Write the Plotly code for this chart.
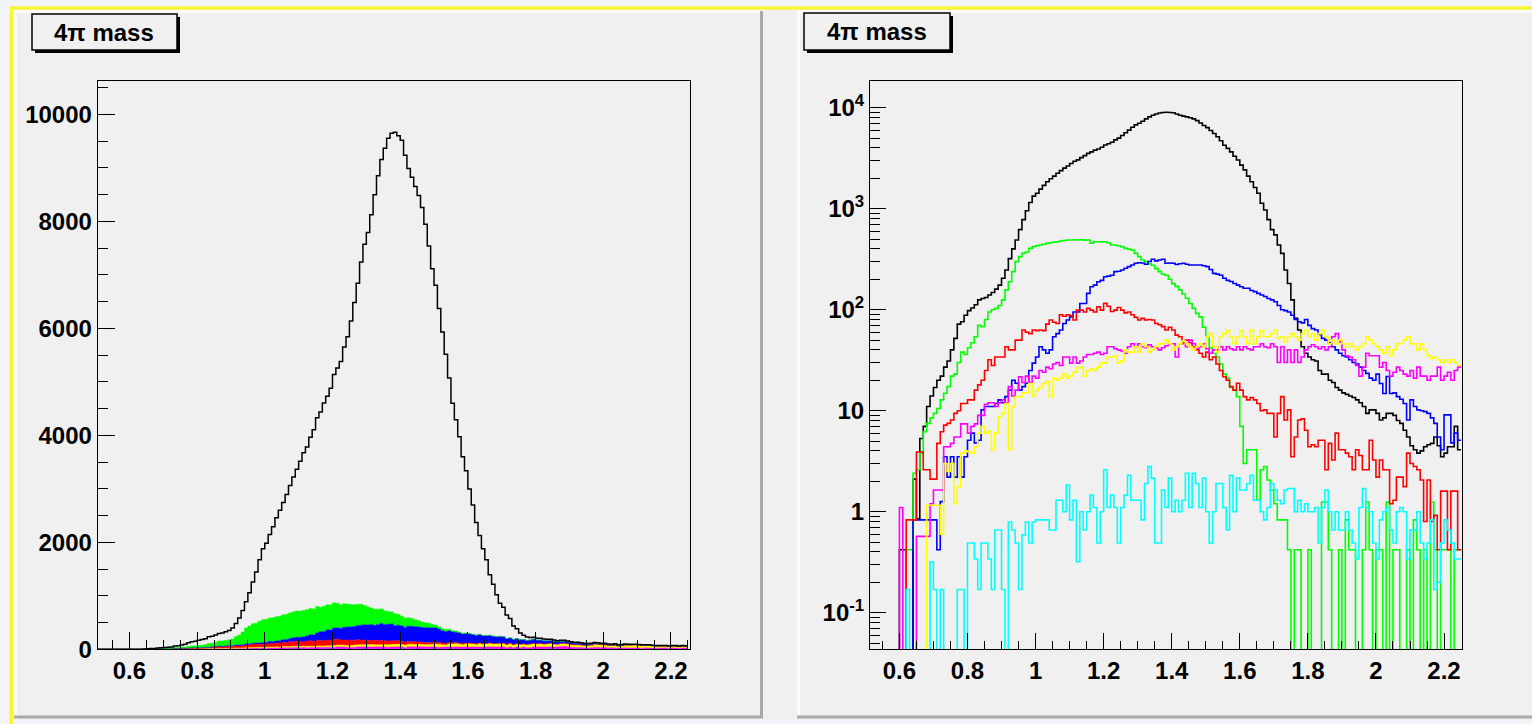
import numpy as np
import plotly.graph_objects as go

# ---------------- data: 4pi mass histograms, 175 bins of 0.01 from 0.50 to 2.25 ----------------
bin_lo = 0.50
bin_w = 0.01
n_bins = 175

black = (
    [0, 0, 0, 0, 0, 0, 0, 0, 0, 0] +
    [0.42, 0.42, 0, 0, 2.1, 0.85, 5.3, 7.0, 11, 14] +
    [17, 20, 22, 27, 31, 40, 52, 72, 76, 88] +
    [98, 104, 112, 125, 129, 132, 140, 148, 160, 175] +
    [205, 247, 320, 400, 490, 620, 780, 955, 1150, 1330] +
    [1420, 1560, 1700, 1850, 1980, 2100, 2240, 2380, 2520, 2650] +
    [2800, 2950, 3040, 3200, 3350, 3530, 3650, 3800, 3900, 4050] +
    [4270, 4400, 4550, 4800, 5000, 5300, 5650, 6000, 6400, 6750] +
    [7000, 7350, 7750, 8100, 8400, 8650, 8850, 8950, 9000, 8950] +
    [8900, 8650, 8400, 8250, 8100, 7950, 7750, 7450, 7050, 6650] +
    [6350, 5950, 5550, 5150, 4700, 4250, 3950, 3650, 3300, 3030] +
    [2700, 2420, 2100, 1850, 1620, 1420, 1130, 970, 780, 620] +
    [550, 437, 361, 247, 182, 125, 82, 63, 43, 37] +
    [34, 32, 31, 25, 23, 23, 20, 19, 17, 16] +
    [15, 14.5, 14, 13.5, 12.8, 12, 11, 9.4, 10.2, 10.2] +
    [9.4, 8.1, 8.5, 9.4, 9.4, 9.0, 8.0, 7.5, 6.4, 5.5] +
    [4.5, 4.1, 3.8, 4.0, 4.4, 4.6, 4.75, 5.5, 4.5, 3.5] +
    [3.8, 4.4, 4.4, 7, 4.1]
)

green = (
    [0] * 10 +
    [0, 0, 0.42, 0.42, 2.4, 2.6, 3.8, 6.2, 7.5, 8.5] +
    [9.4, 10.5, 12.8, 14.9, 17.3, 22, 23, 30, 38, 36] +
    [42, 47, 54, 70, 68, 80, 95, 100, 103, 110] +
    [125, 157, 189, 238, 299, 335, 361, 372, 405, 421] +
    [430, 437, 445, 454, 460, 465, 471, 478, 485, 490] +
    [490, 492, 490, 492, 488, 490, 454, 471, 471, 471] +
    [471, 460, 437, 437, 430, 420, 405, 398, 390, 361] +
    [335, 310, 299, 285, 275, 255, 238, 225, 219, 200] +
    [181, 170, 157, 143, 130, 115, 103, 92, 85, 67] +
    [54, 42, 37, 34, 29, 23, 21, 17, 16, 13.8] +
    [7, 3.0, 4.1, 4.1, 4.1, 1.3, 2.6, 2.8, 2.06, 1.64] +
    [1.2, 0.83, 0.83, 0.83, 0.42, 0, 0.42, 0.42, 0, 0] +
    [0.42, 0, 0, 0, 1.25, 1.25, 0.42, 0, 0, 0.42] +
    [0, 0.83, 0.42, 0.42, 0, 0, 0.42, 1.25, 0.42, 0] +
    [0.42, 0.42, 0, 1.25, 0, 0.42, 0.42, 0, 0, 0.42] +
    [0, 0.83, 0.42, 0, 0.42, 0, 1.25, 0.42, 0, 0.42] +
    [0.42, 0.42, 0, 0.42, 0.42]
)

blue = (
    [0] * 10 +
    [0, 0, 0, 0, 0.83, 0.83, 0.83, 0.83, 0.83, 0.83] +
    [0.83, 0.42, 1.26, 3.5, 2.2, 3.5, 2.2, 3.5, 2.2, 3.5] +
    [5.1, 6.0, 4.8, 5.1, 10.2, 11, 11, 11, 11.8, 12.8] +
    [12, 13.8, 16, 20, 18.7, 16, 17.3, 18.7, 25, 29.6] +
    [34, 43, 40, 37, 40, 54, 58, 63, 73, 79] +
    [85, 95, 95, 115, 115, 145, 169, 175, 189, 195] +
    [212, 215, 219, 238, 240, 247, 257, 267, 277, 288] +
    [292, 290, 282, 300, 316, 304, 310, 316, 288, 290] +
    [288, 280, 285, 288, 282, 277, 277, 277, 277, 272] +
    [267, 250, 229, 225, 219, 205, 195, 190, 182, 175] +
    [169, 163, 163, 155, 151, 145, 140, 135, 129, 125] +
    [120, 110, 100, 98, 95, 88, 80, 76, 74, 80] +
    [70, 65, 63, 57, 52, 50, 47, 43, 40, 37] +
    [35, 34, 32, 30, 29, 27, 25, 23.4, 21, 20] +
    [23, 18.6, 14.8, 21.8, 14.8, 15, 13.8, 13, 11.8, 8.1] +
    [12.8, 11, 10.2, 10, 9.8, 9.4, 8.5, 7.5, 5.5, 4.1] +
    [9.1, 9.1, 4.8, 6, 5.1]
)

red = (
    [0] * 10 +
    [0, 0, 0.83, 0.83, 0.83, 3.9, 3.9, 2.6, 2.6, 2.1] +
    [2.1, 4.75, 6.2, 7.2, 7.5, 8.1, 9.4, 10, 11.8, 11.8] +
    [12.8, 12.8, 16, 18, 20, 25, 32, 28, 34, 34] +
    [34, 43, 40, 40, 50, 50, 63, 60, 58, 63] +
    [62, 63, 62, 72, 79, 75, 73, 89, 86, 89] +
    [87, 79, 99, 99, 95, 103, 99, 95, 107, 99] +
    [116, 108, 96, 99, 105, 99, 93, 95, 89, 84] +
    [79, 82, 79, 80, 79, 73, 71, 68, 63, 67] +
    [63, 56, 54, 47, 50, 47, 43, 40, 37, 34] +
    [38, 32, 34, 29, 25, 21.7, 20, 17.3, 16, 18.7] +
    [16, 13.8, 12.8, 13.5, 12.8, 11.8, 10, 10.2, 9.4, 9.4] +
    [5.5, 9.4, 13.8, 8.1, 10.2, 3.5, 5.5, 8.1, 8.3, 6.4] +
    [4.4, 4.6, 4.4, 5.1, 5.1, 2.6, 4.75, 3.25, 6, 4.1] +
    [4.1, 3.8, 3.5, 2.6, 4.1, 3.6, 2.6, 2.6, 5.1, 3.25] +
    [2.2, 3.25, 2.6, 2.6, 1.2, 1.3, 2.2, 2.2, 1.77, 3.8] +
    [3.0, 2.8, 2.6, 2.06, 0.8, 2.06, 0.8, 0.92, 0.42, 1.6] +
    [1.6, 0.42, 1.6, 1.6, 0.42]
)

magenta = (
    [0] * 10 +
    [1.1, 0, 0, 0, 0, 0.57, 0.57, 0.57, 0.57, 1.2] +
    [1.64, 1.64, 1.64, 4.4, 4.4, 4.75, 5.5, 5.5, 7.4, 7.4] +
    [6, 7, 7.4, 9, 9, 11.6, 12, 12, 11, 12] +
    [12.8, 12, 17.3, 14, 16, 21.7, 19, 22, 19, 22] +
    [21, 25, 24, 27, 26, 29, 30, 28, 34, 34] +
    [29.6, 34, 29.6, 31, 34, 36, 36, 37, 38, 36] +
    [37, 43, 43, 41, 40, 39, 37, 43, 46, 43] +
    [46, 43, 42, 45, 43, 42, 40, 42, 44, 46] +
    [46, 34, 46, 46, 43, 50, 46, 41, 43, 46] +
    [41, 37, 40, 40, 43, 40, 43, 41, 40, 43] +
    [40, 43, 41, 40, 43, 43, 46, 43, 42, 46] +
    [43, 30, 43, 30, 40, 30, 40, 30, 34, 40] +
    [43, 45, 43, 41, 43, 40, 43, 54, 58, 48] +
    [40, 35, 34, 32, 28, 22, 27, 37, 35, 35] +
    [35, 27, 30, 25, 22, 24, 27, 25, 23, 22] +
    [25, 21, 27, 22, 22, 20, 22, 22, 27, 20] +
    [22, 24, 20, 25, 27]
)

yellow = (
    [0] * 10 +
    [0, 0, 0, 0, 0, 0, 0, 0, 1.16, 1.16] +
    [1.16, 1.16, 0.6, 3.0, 2.5, 3.0, 1.2, 1.77, 3.8, 4.0] +
    [3.9, 3.8, 4.4, 6, 7, 6, 6.3, 4.1, 6, 8.7] +
    [9.4, 11.8, 4.1, 11, 13.8, 13.8, 15, 15, 18.6, 14] +
    [16, 17, 18.6, 19.5, 13.8, 21, 20, 21, 23, 21] +
    [22, 24, 26.7, 26.7, 22, 25, 26, 25, 27, 29.6] +
    [29.6, 34, 34, 35, 29.6, 31, 40, 38, 38, 43] +
    [38, 46, 43, 38, 40, 43, 46, 46, 50, 46] +
    [40, 43, 46, 49, 46, 43, 40, 43, 46, 43] +
    [54, 58, 43, 38, 54, 58, 62, 54, 46, 54] +
    [62, 54, 46, 63, 46, 54, 62, 54, 54, 58] +
    [63, 52, 54, 48, 54, 58, 54, 50, 58, 63] +
    [54, 58, 50, 58, 63, 54, 46, 50, 46, 50] +
    [46, 43, 46, 43, 40, 43, 46, 54, 50, 46] +
    [43, 40, 37, 43, 35, 40, 46, 46, 50, 54] +
    [46, 46, 40, 46, 40, 35, 33, 34, 32, 30] +
    [32, 30, 32, 30, 28]
)

cyan = (
    [0] * 10 +
    [0, 0, 0.17, 0, 0, 0, 0, 0, 0, 0.32] +
    [0.17, 0, 0.17, 0, 0, 0, 0, 0.17, 0.17, 0] +
    [0.49, 0.49, 0.34, 0.17, 0.49, 0.49, 0.34, 0.17, 0.66, 0.66] +
    [0.17, 0, 0.79, 0.66, 0.49, 0.17, 0.59, 0.79, 0.49, 0.79] +
    [0.83, 0.83, 0.83, 0.83, 0.66, 0.66, 1.3, 1.3, 1.0, 1.84] +
    [0.83, 1.3, 0.32, 1.0, 0.66, 1.0, 1.46, 1.1, 0.49, 1.0] +
    [2.6, 1.1, 1.46, 1.1, 0.49, 1.1, 1.46, 2.3, 1.3, 1.3] +
    [1.3, 0.83, 1.9, 2.8, 2.15, 0.49, 0.49, 1.64, 1.1, 2.15] +
    [1.0, 1.3, 1.0, 1.3, 2.4, 1.1, 2.4, 1.9, 1.1, 2.15] +
    [1.0, 0.49, 1.0, 1.9, 1.9, 1.1, 0.66, 2.3, 1.0, 2.15] +
    [1.64, 1.64, 1.9, 2.3, 1.3, 1.3, 1.0, 0.83, 1.1, 1.9] +
    [1.64, 1.3, 1.2, 1.64, 1.7, 1.7, 1.0, 1.3, 1.0, 1.2] +
    [1.0, 1.0, 1.1, 0.49, 1.1, 1.64, 1.0, 0.66, 1.0, 0.66] +
    [0.66, 1.0, 0.66, 0.49, 0.34, 1.1, 1.7, 1.1, 1.0, 0.49] +
    [0.34, 0.83, 1.0, 1.1, 0.66, 0.49, 1.0, 1.1, 1.0, 0.34] +
    [0.66, 0.66, 1.0, 0.49, 0.34, 0.49, 0.83, 0.17, 0.2, 0.49] +
    [0.83, 0.66, 0.49, 0.34, 0.34]
)

x_tickvals = [0.6, 0.8, 1.0, 1.2, 1.4, 1.6, 1.8, 2.0, 2.2]
x_ticktext = ["0.6", "0.8", "1", "1.2", "1.4", "1.6", "1.8", "2", "2.2"]
lin_tickvals = [0, 2000, 4000, 6000, 8000, 10000]
lin_ticktext = ["0", "2000", "4000", "6000", "8000", "10000"]
log_tickvals = [0.1, 1, 10, 100, 1000, 10000]
log_ticktext = ["10<sup>-1</sup>", "1", "10", "10<sup>2</sup>", "10<sup>3</sup>", "10<sup>4</sup>"]
title_text = "4π mass"

for arr in (black, green, blue, red, magenta, yellow, cyan):
    assert len(arr) == n_bins

# ---------------- geometry helpers ----------------
W, H = 1532, 724
def fx(p):
    return p / W
def fy(p):
    return 1 - p / H

edges = bin_lo + bin_w * np.arange(n_bins + 1)

def step_y(vals, floor=None):
    v = np.asarray(vals, dtype=float)
    if floor is not None:
        v = np.where(v > 0, v, floor)
    return np.append(v, v[-1])

fig = go.Figure()

# ---------------- left: stacked components + total ----------------
stack_order = [("#00ffff", cyan), ("#ff00ff", magenta), ("#ffff00", yellow),
               ("#ff0000", red), ("#0000ff", blue), ("#00ff00", green)]
cum = np.zeros(n_bins)
first = True
for col, arr in stack_order:
    cum = cum + np.asarray(arr, dtype=float)
    fig.add_trace(go.Scatter(
        x=edges, y=step_y(cum), mode="lines",
        line=dict(color=col, width=0.5, shape="hv"),
        fill="tozeroy" if first else "tonexty", fillcolor=col,
        xaxis="x", yaxis="y", showlegend=False, hoverinfo="skip"))
    first = False

total = (np.asarray(black, float) + np.asarray(green, float) + np.asarray(blue, float)
         + np.asarray(red, float) + np.asarray(magenta, float) + np.asarray(yellow, float)
         + np.asarray(cyan, float))
fig.add_trace(go.Scatter(
    x=edges, y=step_y(total), mode="lines",
    line=dict(color="black", width=1.5, shape="hv"),
    xaxis="x", yaxis="y", showlegend=False, hoverinfo="skip"))

# ---------------- right: individual components, log scale ----------------
right_series = [("black", black), ("#00ff00", green), ("#0000ff", blue), ("#ff0000", red),
                ("#ff00ff", magenta), ("#ffff00", yellow), ("#00ffff", cyan)]
for col, arr in right_series:
    fig.add_trace(go.Scatter(
        x=edges, y=step_y(arr, floor=1e-4), mode="lines",
        line=dict(color=col, width=1.6, shape="hv"),
        xaxis="x2", yaxis="y2", showlegend=False, hoverinfo="skip"))

tickfont = dict(family="Liberation Sans, Arial, sans-serif", size=24, color="black", weight="bold")

common_axis = dict(showline=True, linecolor="black", linewidth=1, mirror=True,
                   showgrid=False, zeroline=False, ticks="inside", tickcolor="black",
                   tickwidth=1, tickfont=tickfont, automargin=False)

plot_top, plot_bot = 80.7, 649.3

fig.update_layout(
    width=W, height=H, autosize=False,
    margin=dict(l=0, r=0, t=0, b=0, pad=0),
    paper_bgcolor="#f0f0f0", plot_bgcolor="#f0f0f0",
    xaxis=dict(domain=[fx(97.7), fx(690)], range=[0.5064, 2.2562], anchor="y",
               tickmode="array", tickvals=x_tickvals, ticktext=x_ticktext, ticklen=17,
               minor=dict(tickmode="linear", tick0=0.5, dtick=0.05, ticks="inside",
                          ticklen=9, tickcolor="black", showgrid=False),
               **common_axis),
    yaxis=dict(domain=[fy(plot_bot), fy(plot_top)], range=[0, 10630], anchor="x",
               tickmode="array", tickvals=lin_tickvals, ticktext=lin_ticktext, ticklen=17,
               minor=dict(tickmode="linear", tick0=0, dtick=500, ticks="inside",
                          ticklen=10, tickcolor="black", showgrid=False),
               **common_axis),
    xaxis2=dict(domain=[fx(870), fx(1461.5)], range=[0.5136, 2.2513], anchor="y2",
                tickmode="array", tickvals=x_tickvals, ticktext=x_ticktext, ticklen=16,
                minor=dict(tickmode="linear", tick0=0.5, dtick=0.05, ticks="inside",
                           ticklen=8, tickcolor="black", showgrid=False),
                **common_axis),
    yaxis2=dict(domain=[fy(plot_bot), fy(plot_top)], type="log", range=[-1.362, 4.267],
                anchor="x2", tickmode="array", tickvals=log_tickvals, ticktext=log_ticktext,
                ticklen=16,
                minor=dict(tickmode="array",
                           tickvals=[k * 10.0 ** e for e in range(-2, 5) for k in range(2, 10)],
                           ticks="inside", ticklen=10, tickcolor="black", showgrid=False),
                **common_axis),
)

# ---------------- canvas decorations (pads, borders, title boxes) ----------------
shapes = []
def rect(x0, y0, x1, y1, fill=None, line_color=None, lw=0, layer="below"):
    d = dict(type="rect", xref="paper", yref="paper",
             x0=fx(x0), x1=fx(x1), y0=fy(y1), y1=fy(y0), layer=layer,
             line=dict(width=lw, color=line_color or "rgba(0,0,0,0)"))
    if fill:
        d["fillcolor"] = fill
    shapes.append(d)

def line(x0, y0, x1, y1, color, lw, layer="below"):
    shapes.append(dict(type="line", xref="paper", yref="paper",
                       x0=fx(x0), x1=fx(x1), y0=fy(y0), y1=fy(y1), layer=layer,
                       line=dict(color=color, width=lw)))

outer = "#f3f3fa"
rect(0, 0, W, 7, fill=outer)
rect(0, 0, 10, H, fill=outer)
rect(0, 720, W, H, fill=outer)
# yellow canvas highlight
line(10, 8, W, 8, "#f8f832", 3.5)
line(11.3, 7, 11.3, H, "#f8f832", 3.5)
# pad bevels
for (x0, x1) in [(14, 763), (797, 1545)]:
    line(x0 + 1.5, 11, x0 + 1.5, 717, "#fbfbfb", 3)
    line(x0, 11.5, x1, 11.5, "#fbfbfb", 3)
    line(x1 - 1.5, 11, x1 - 1.5, 718, "#a9a9a9", 3)
    line(x0, 717, x1, 717, "#a9a9a9", 3)

# title boxes with shadows
for (bx0, by0, bx1, by1) in [(32, 14, 177, 50), (804, 13, 950, 50)]:
    rect(bx0 + 3, by0 + 3, bx1 + 3, by1 + 3, fill="black", layer="above")
    rect(bx0, by0, bx1, by1, fill="#f0f0f0", line_color="black", lw=1.5, layer="above")

fig.update_layout(shapes=shapes)

annotations = []
for (cx, cy) in [(104.5, 32), (877, 31.5)]:
    annotations.append(dict(x=fx(cx), y=fy(cy), xref="paper", yref="paper",
                            text=title_text, showarrow=False, xanchor="center", yanchor="middle",
                            font=dict(family="Liberation Sans, Arial, sans-serif", size=24,
                                      color="black", weight="bold")))
fig.update_layout(annotations=annotations)

fig.write_html("out.html", config={"responsive": False})
